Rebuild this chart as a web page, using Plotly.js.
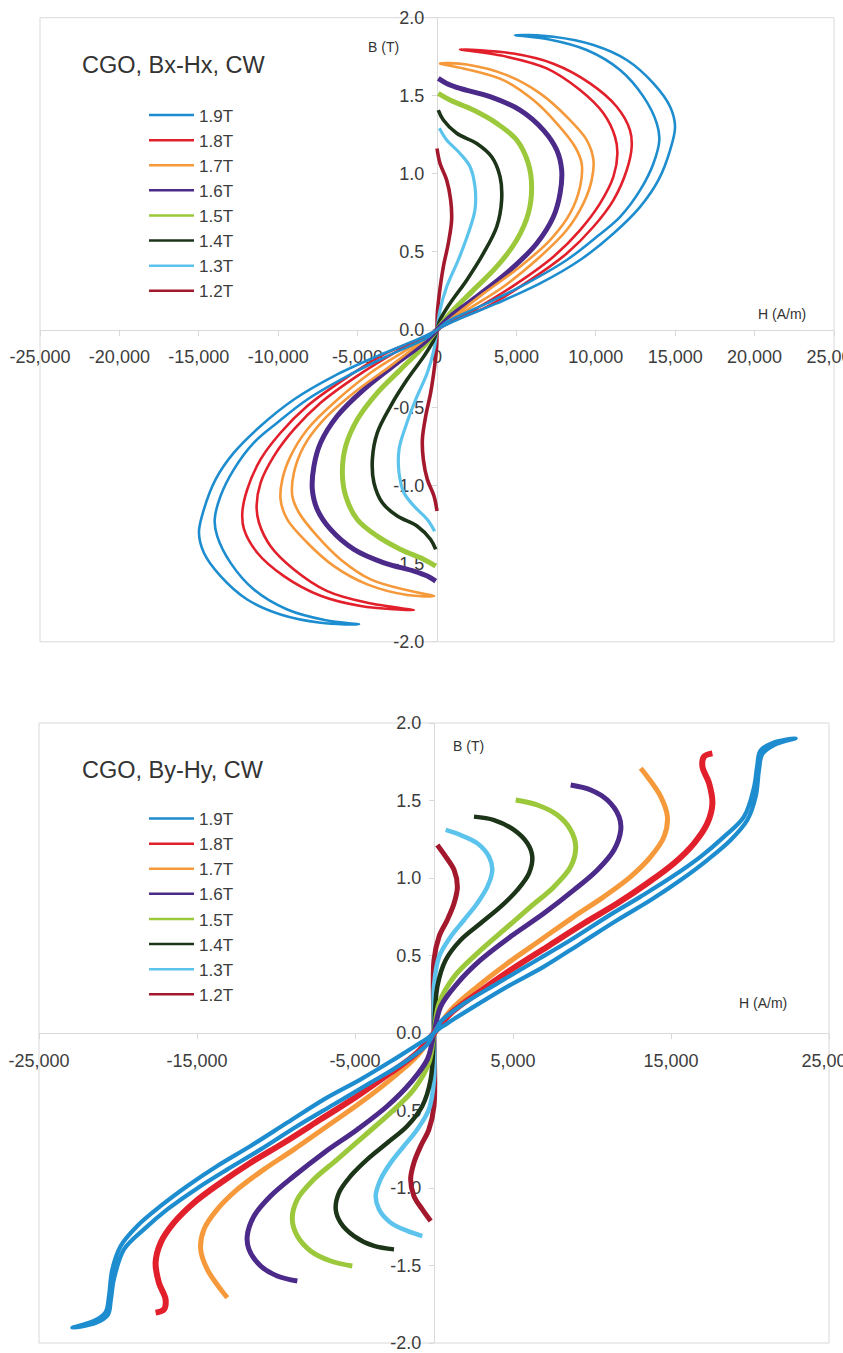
<!DOCTYPE html>
<html>
<head>
<meta charset="utf-8">
<script src="https://cdn.plot.ly/plotly-3.0.1.min.js"></script>
<style>html,body{margin:0;padding:0;background:#fff;}#chart{width:843px;height:1353px;}</style>
</head>
<body>
<div id="chart"></div>
<script>
// ---------- labels ----------
const seriesNames = ['1.9T','1.8T','1.7T','1.6T','1.5T','1.4T','1.3T','1.2T'];
const seriesColors = ['#1d8dcf','#e2202b','#f5993b','#4b2a89','#9cc83b','#1c3418','#5cc4ec','#a3182c'];
const titleTop = 'CGO, Bx-Hx, CW';
const titleBottom = 'CGO, By-Hy, CW';
const xTickValsTop = [-25000,-20000,-15000,-10000,-5000,0,5000,10000,15000,20000,25000];
const xTickTextTop = ['-25,000','-20,000','-15,000','-10,000','-5,000','0','5,000','10,000','15,000','20,000','25,000'];
const xTickValsBottom = [-25000,-15000,-5000,5000,15000,25000];
const xTickTextBottom = ['-25,000','-15,000','-5,000','5,000','15,000','25,000'];
const yTickVals = [-2,-1.5,-1,-0.5,0,0.5,1,1.5,2];
const yTickText = ['-2.0','-1.5','-1.0','-0.5','0.0','0.5','1.0','1.5','2.0'];

// ---------- Bx-Hx (top chart): H in A/m, B in T ----------
const bxH_19 = [0,610,3130,5650,8170,10060,11530,12790,13630,14000,13840,13000,11530,9430,7000,4910,7330,9850,11950,13630,14680,14990,14680,13940,12790,11110,9010,6490,3760,1240,0,-610,-3130,-5650,-8170,-10060,-11530,-12790,-13630,-14000,-13840,-13000,-11530,-9430,-7000,-4910,-7330,-9850,-11950,-13630,-14680,-14990,-14680,-13940,-12790,-11110,-9010,-6490,-3760,-1240,0];
const bxB_19 = [0,0.051,0.169,0.297,0.447,0.596,0.724,0.895,1.066,1.216,1.323,1.494,1.665,1.793,1.862,1.889,1.878,1.825,1.729,1.579,1.429,1.301,1.152,0.959,0.788,0.617,0.447,0.297,0.169,0.062,0,-0.051,-0.169,-0.297,-0.447,-0.596,-0.724,-0.895,-1.066,-1.216,-1.323,-1.494,-1.665,-1.793,-1.862,-1.889,-1.878,-1.825,-1.729,-1.579,-1.429,-1.301,-1.152,-0.959,-0.788,-0.617,-0.447,-0.297,-0.169,-0.062,0];
const bxH_18 = [0,2500,5040,7330,9010,10270,11110,11360,11210,10480,9010,6910,4390,1450,4810,7330,9640,11320,12150,12260,11950,11110,9850,8170,5860,3130,610,0,-2500,-5040,-7330,-9010,-10270,-11110,-11360,-11210,-10480,-9010,-6910,-4390,-1450,-4810,-7330,-9640,-11320,-12150,-12260,-11950,-11110,-9850,-8170,-5860,-3130,-610,0];
const bxB_18 = [0,0.137,0.297,0.468,0.639,0.810,0.981,1.130,1.237,1.387,1.536,1.675,1.750,1.797,1.770,1.705,1.579,1.429,1.280,1.173,1.024,0.831,0.660,0.489,0.318,0.147,0.040,0,-0.137,-0.297,-0.468,-0.639,-0.810,-0.981,-1.130,-1.237,-1.387,-1.536,-1.675,-1.750,-1.797,-1.770,-1.705,-1.579,-1.429,-1.280,-1.173,-1.024,-0.831,-0.660,-0.489,-0.318,-0.147,-0.040,0];
const bxH_17 = [0,1030,2940,5230,7120,8380,9010,9110,8690,7540,6070,4180,1660,190,1870,4390,6490,8170,9430,9850,9740,9220,8170,6490,4180,1870,0,-1030,-2940,-5230,-7120,-8380,-9010,-9110,-8690,-7540,-6070,-4180,-1660,-190,-1870,-4390,-6490,-8170,-9430,-9850,-9740,-9220,-8170,-6490,-4180,-1870,0];
const bxB_17 = [0,0.083,0.233,0.404,0.575,0.746,0.917,1.066,1.173,1.323,1.472,1.600,1.675,1.707,1.700,1.632,1.515,1.365,1.216,1.088,0.959,0.810,0.639,0.468,0.276,0.126,0,-0.083,-0.233,-0.404,-0.575,-0.746,-0.917,-1.066,-1.173,-1.323,-1.472,-1.600,-1.675,-1.707,-1.700,-1.632,-1.515,-1.365,-1.216,-1.088,-0.959,-0.810,-0.639,-0.468,-0.276,-0.126,0];
const bxH_16 = [-80,-610,-1450,-3340,-5230,-6700,-7540,-7850,-7750,-7330,-6280,-4600,-2500,-820,0,820,2500,4600,6280,7330,7750,7850,7540,6700,5230,3340,1450,610,80];
const bxB_16 = [-1.611,-1.579,-1.547,-1.494,-1.408,-1.280,-1.152,-1.024,-0.874,-0.724,-0.553,-0.382,-0.212,-0.083,0,0.083,0.212,0.382,0.553,0.724,0.874,1.024,1.152,1.280,1.408,1.494,1.547,1.579,1.611];
const bxH_15 = [-80,-820,-2290,-3760,-5020,-5750,-5960,-5750,-5020,-3760,-2290,-820,0,820,2290,3760,5020,5750,5960,5750,5020,3760,2290,820,80];
const bxB_15 = [-1.515,-1.472,-1.408,-1.323,-1.216,-1.066,-0.917,-0.746,-0.575,-0.404,-0.254,-0.105,0,0.105,0.254,0.404,0.575,0.746,0.917,1.066,1.216,1.323,1.408,1.472,1.515];
const bxH_14 = [-80,-400,-1240,-2500,-3440,-3970,-4070,-3760,-2920,-1870,-820,-190,0,190,820,1870,2920,3760,4070,3970,3440,2500,1240,400,80];
const bxB_14 = [-1.408,-1.344,-1.259,-1.194,-1.109,-0.981,-0.831,-0.660,-0.489,-0.318,-0.169,-0.062,0,0.062,0.169,0.318,0.489,0.660,0.831,0.981,1.109,1.194,1.259,1.344,1.408];
const bxH_13 = [-150,-610,-1450,-2080,-2390,-2390,-1970,-1340,-610,-190,0,190,610,1340,1970,2390,2390,2080,1450,610,150];
const bxB_13 = [-1.291,-1.216,-1.130,-1.045,-0.917,-0.767,-0.618,-0.447,-0.276,-0.126,0,0.126,0.276,0.447,0.618,0.767,0.917,1.045,1.130,1.216,1.291];
const bxH_12 = [0,-190,-610,-860,-920,-710,-400,-150,-20,0,20,150,400,710,920,860,610,190,0];
const bxB_12 = [-1.162,-1.066,-0.959,-0.831,-0.703,-0.553,-0.404,-0.233,-0.105,0,0.105,0.233,0.404,0.553,0.703,0.831,0.959,1.066,1.162];

// ---------- By-Hy (bottom chart) ----------
const byH_19 = [0,420,1900,4010,6330,8650,10970,13080,15090,16880,18360,19620,20260,20450,20650,21400,22890,21520,20780,20570,20360,19830,18780,17300,15610,13720,11610,9280,6960,4640,2530,840,0,-420,-1900,-4010,-6330,-8650,-10970,-13080,-15090,-16880,-18360,-19620,-20260,-20450,-20650,-21400,-22890,-21520,-20780,-20570,-20360,-19830,-18780,-17300,-15610,-13720,-11610,-9280,-6960,-4640,-2530,-840,0];
const byB_19 = [0,0.073,0.19,0.32,0.46,0.60,0.751,0.880,1.009,1.138,1.267,1.396,1.589,1.72,1.82,1.87,1.901,1.858,1.80,1.697,1.525,1.374,1.245,1.116,0.987,0.858,0.729,0.578,0.428,0.299,0.170,0.062,0,-0.073,-0.19,-0.32,-0.46,-0.60,-0.751,-0.880,-1.009,-1.138,-1.267,-1.396,-1.589,-1.72,-1.82,-1.87,-1.901,-1.858,-1.80,-1.697,-1.525,-1.374,-1.245,-1.116,-0.987,-0.858,-0.729,-0.578,-0.428,-0.299,-0.170,-0.062,0];
const byH_18 = [-17620,-17090,-16990,-17410,-17620,-17300,-16460,-15190,-13500,-11610,-9500,-7170,-4850,-2740,-1060,0,1060,2740,4850,7170,9500,11610,13500,15190,16460,17300,17620,17410,16990,17090,17620];
const byB_18 = [-1.804,-1.783,-1.718,-1.611,-1.482,-1.353,-1.224,-1.095,-0.966,-0.837,-0.708,-0.557,-0.406,-0.256,-0.127,0,0.127,0.256,0.406,0.557,0.708,0.837,0.966,1.095,1.224,1.353,1.482,1.611,1.718,1.783,1.804];
const byH_17 = [-13080,-13500,-14350,-14770,-14560,-13720,-12450,-10760,-8860,-6750,-4640,-2740,-1060,0,1060,2740,4640,6750,8860,10760,12450,13720,14560,14770,14350,13500,13080];
const byB_17 = [-1.708,-1.654,-1.525,-1.396,-1.267,-1.138,-1.009,-0.880,-0.751,-0.600,-0.449,-0.299,-0.148,0,0.148,0.299,0.449,0.600,0.751,0.880,1.009,1.138,1.267,1.396,1.525,1.654,1.708];
const byH_16 = [-8650,-9920,-10970,-11710,-11820,-11390,-10340,-8860,-6960,-4850,-2950,-1480,-420,0,420,1480,2950,4850,6960,8860,10340,11390,11820,11710,10970,9920,8650];
const byB_16 = [-1.600,-1.568,-1.503,-1.396,-1.310,-1.181,-1.052,-0.923,-0.772,-0.622,-0.471,-0.320,-0.170,0,0.170,0.320,0.471,0.622,0.772,0.923,1.052,1.181,1.310,1.396,1.503,1.568,1.600];
const byH_15 = [-5170,-6540,-7810,-8650,-8970,-8650,-7600,-6120,-4430,-2740,-1270,-320,0,320,1270,2740,4430,6120,7600,8650,8970,8650,7810,6540,5170];
const byB_15 = [-1.503,-1.471,-1.406,-1.310,-1.202,-1.073,-0.944,-0.815,-0.665,-0.514,-0.363,-0.191,0,0.191,0.363,0.514,0.665,0.815,0.944,1.073,1.202,1.310,1.406,1.471,1.503];
const byH_14 = [-2530,-3800,-5060,-5910,-6220,-6010,-5280,-4220,-2950,-1690,-740,-210,0,210,740,1690,2950,4220,5280,6010,6220,5910,5060,3800,2530];
const byB_14 = [-1.396,-1.374,-1.310,-1.224,-1.138,-1.030,-0.923,-0.815,-0.708,-0.600,-0.471,-0.299,0,0.299,0.471,0.600,0.708,0.815,0.923,1.030,1.138,1.224,1.310,1.374,1.396];
const byH_13 = [-740,-1690,-2740,-3480,-3690,-3380,-2740,-1900,-1060,-320,0,0,0,320,1060,1900,2740,3380,3690,3480,2740,1690,740];
const byB_13 = [-1.310,-1.277,-1.224,-1.138,-1.052,-0.944,-0.837,-0.729,-0.622,-0.492,-0.299,0,0.299,0.492,0.622,0.729,0.837,0.944,1.052,1.138,1.224,1.277,1.310];
const byH_12 = [-210,-740,-1270,-1480,-1270,-840,-320,0,0,0,320,840,1270,1480,1270,740,210];
const byB_12 = [-1.213,-1.138,-1.052,-0.944,-0.837,-0.729,-0.622,-0.471,0,0.471,0.622,0.729,0.837,0.944,1.052,1.138,1.213];

const topH = [bxH_19,bxH_18,bxH_17,bxH_16,bxH_15,bxH_14,bxH_13,bxH_12];
const topB = [bxB_19,bxB_18,bxB_17,bxB_16,bxB_15,bxB_14,bxB_13,bxB_12];
const botH = [byH_19,byH_18,byH_17,byH_16,byH_15,byH_14,byH_13,byH_12];
const botB = [byB_19,byB_18,byB_17,byB_16,byB_15,byB_14,byB_13,byB_12];

// ---------- styling ----------
const topWidths = [2.6,2.6,2.6,5,5,3.6,3.2,3.6];
const botWidths = [4.2,6,5,5,5,4.5,4.5,5];
const W = 843, Hh = 1353;
const px = v => v / W;
const py = v => 1 - v / Hh;

const traces = [];
function addChart(Hs, Bs, widths, xa, ya, leg) {
  for (let i = Hs.length - 1; i >= 0; i--) {
    traces.push({
      type: 'scatter', mode: 'lines', x: Hs[i], y: Bs[i], name: seriesNames[i],
      xaxis: xa, yaxis: ya, showlegend: false,
      line: {color: seriesColors[i], width: widths[i], shape: 'spline', smoothing: 1},
      hoverinfo: 'skip'
    });
  }
  // legend entries (thin line samples, as in the original)
  for (let i = 0; i < Hs.length; i++) {
    traces.push({
      type: 'scatter', mode: 'lines', x: [null], y: [null], name: seriesNames[i],
      xaxis: xa, yaxis: ya, legend: leg, showlegend: true, legendrank: i + 1,
      line: {color: seriesColors[i], width: 2.5}, hoverinfo: 'skip'
    });
  }
}
addChart(topH, topB, topWidths, 'x', 'y', 'legend');
addChart(botH, botB, botWidths, 'x2', 'y2', 'legend2');

const font = 'Liberation Sans, Arial, sans-serif';
const gridC = '#d9d9d9';
const tickFont = {family: font, size: 18, color: '#3c3c3c'};

const topX = [px(40), px(834)], topY = [py(641.8), py(17.7)];
const botX = [px(39), px(829)], botY = [py(1343), py(723)];

function xAxis(dom, ydom, vals, text) {
  return {domain: dom, range: [-25000, 25000], anchor: 'free', position: (ydom[0] + ydom[1]) / 2,
    tickmode: 'array', tickvals: vals, ticktext: text, showline: true, linecolor: gridC, linewidth: 1,
    zeroline: false, showgrid: false, ticks: 'outside', ticklen: 5, tickcolor: gridC,
    tickfont: tickFont, ticklabelstandoff: 6, ticklabeloverflow: 'allow', fixedrange: true, automargin: false, layer: 'below traces'};
}
function yAxis(dom, xdom) {
  return {domain: dom, range: [-2, 2], anchor: 'free', position: (xdom[0] + xdom[1]) / 2,
    tickmode: 'array', tickvals: yTickVals, ticktext: yTickText, showline: true, linecolor: gridC, linewidth: 1,
    zeroline: false, showgrid: false, ticks: 'outside', ticklen: 5, tickcolor: gridC,
    tickfont: tickFont, ticklabelstandoff: 4, ticklabeloverflow: 'allow', fixedrange: true, automargin: false, layer: 'below traces'};
}

const legendCommon = {xanchor: 'left', yanchor: 'top', bgcolor: 'rgba(0,0,0,0)', borderwidth: 0,
  font: {family: font, size: 17, color: '#3c3c3c'}, itemwidth: 45, traceorder: 'normal', itemclick: false};

const layout = {
  width: W, height: Hh, margin: {l: 0, r: 0, t: 0, b: 0},
  paper_bgcolor: '#ffffff', plot_bgcolor: '#ffffff', showlegend: true,
  xaxis: xAxis(topX, topY, xTickValsTop, xTickTextTop),
  yaxis: yAxis(topY, topX),
  xaxis2: xAxis(botX, botY, xTickValsBottom, xTickTextBottom),
  yaxis2: yAxis(botY, botX),
  legend: Object.assign({x: px(144), y: py(97.5)}, legendCommon),
  legend2: Object.assign({x: px(144), y: py(801)}, legendCommon),
  shapes: [
    {type: 'rect', xref: 'x domain', yref: 'y domain', x0: 0, x1: 1, y0: 0, y1: 1, line: {color: gridC, width: 1}, layer: 'below'},
    {type: 'rect', xref: 'x2 domain', yref: 'y2 domain', x0: 0, x1: 1, y0: 0, y1: 1, line: {color: gridC, width: 1}, layer: 'below'}
  ],
  annotations: [
    {text: titleTop, xref: 'paper', yref: 'paper', x: px(80), y: py(65), xanchor: 'left', yanchor: 'middle', showarrow: false, font: {family: font, size: 23.5, color: '#333'}},
    {text: titleBottom, xref: 'paper', yref: 'paper', x: px(80), y: py(770), xanchor: 'left', yanchor: 'middle', showarrow: false, font: {family: font, size: 23.5, color: '#333'}},
    {text: 'B (T)', xref: 'paper', yref: 'paper', x: px(383), y: py(47), xanchor: 'center', yanchor: 'middle', showarrow: false, font: {family: font, size: 14, color: '#333'}},
    {text: 'H (A/m)', xref: 'paper', yref: 'paper', x: px(782), y: py(314), xanchor: 'center', yanchor: 'middle', showarrow: false, font: {family: font, size: 14, color: '#333'}},
    {text: 'B (T)', xref: 'paper', yref: 'paper', x: px(468), y: py(746), xanchor: 'center', yanchor: 'middle', showarrow: false, font: {family: font, size: 14, color: '#333'}},
    {text: 'H (A/m)', xref: 'paper', yref: 'paper', x: px(763), y: py(1003), xanchor: 'center', yanchor: 'middle', showarrow: false, font: {family: font, size: 14, color: '#333'}}
  ]
};

Plotly.newPlot('chart', traces, layout, {staticPlot: true, displayModeBar: false});
</script>
</body>
</html>
